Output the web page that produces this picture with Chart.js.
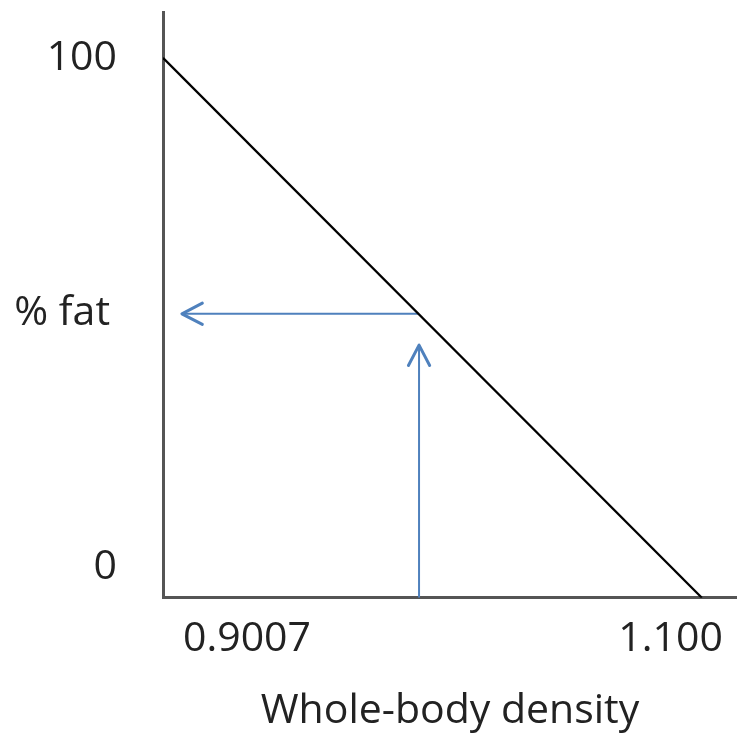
<!DOCTYPE html>
<html>
<head>
<meta charset="utf-8">
<script src="https://cdn.jsdelivr.net/npm/chart.js@4.4.1/dist/chart.umd.min.js"></script>
<style>
  html, body { margin: 0; padding: 0; background: #fff; }
  #wrap { width: 737px; height: 741px; }
</style>
</head>
<body>
<div id="wrap"><canvas id="fatChart" width="737" height="741"></canvas></div>
<script>
// Siri line: density of pure fat -> 100 %, fat-free mass -> 0 %
const lineDensity = [0.9007, 1.100];
const lineFat = [100, 0];

// reading a sample: up from the density axis, then across to % fat
const sampleDensity = 0.9954;
const sampleFat = 52.6;
const upArrowDensity = [sampleDensity, sampleDensity];
const upArrowFat = [0, 46.8];
const acrossArrowDensity = [sampleDensity, 0.9077];
const acrossArrowFat = [sampleFat, sampleFat];

// tick labels
const xTickValues = [0.9007, 1.100];
const xTickLabels = ["0.9007", "1.100"];
const yTickValues = [100, sampleFat, 0];
const yTickLabels = ["100", "% fat", "0"];

const xTitle = "Whole-body density";

const FONT = "'Open Sans', sans-serif";
const BLUE = "#4f81bd";

function toPoints(xs, ys) {
    return xs.map((x, i) => ({ x: x, y: ys[i] }));
}

// open arrow heads on the last point of the arrow datasets
const arrowHeads = {
    id: "arrowHeads",
    afterDatasetsDraw(chart) {
        const ctx = chart.ctx;
        chart.data.datasets.forEach((ds, i) => {
            if (!ds.arrow) return;
            const pts = chart.getDatasetMeta(i).data;
            const a = pts[pts.length - 2], b = pts[pts.length - 1];
            const ang = Math.atan2(b.y - a.y, b.x - a.x);
            const len = 23, spread = 0.48;
            ctx.save();
            ctx.strokeStyle = ds.borderColor;
            ctx.lineWidth = 3;
            ctx.lineCap = "round";
            ctx.lineJoin = "round";
            ctx.beginPath();
            ctx.moveTo(b.x - len * Math.cos(ang - spread), b.y - len * Math.sin(ang - spread));
            ctx.lineTo(b.x, b.y);
            ctx.lineTo(b.x - len * Math.cos(ang + spread), b.y - len * Math.sin(ang + spread));
            ctx.stroke();
            ctx.restore();
        });
    }
};

// tick labels sit like loose text boxes next to the axes
const axisLabels = {
    id: "axisLabels",
    afterDraw(chart) {
        const ctx = chart.ctx;
        const xs = chart.scales.x, ys = chart.scales.y;
        const area = chart.chartArea;
        ctx.save();
        ctx.font = "41px " + FONT;
        ctx.fillStyle = "#222";
        ctx.textBaseline = "middle";

        const yNudge = [[0, 0], [-7, 0], [0, -30]];
        ctx.textAlign = "right";
        yTickValues.forEach((v, i) => {
            ctx.fillText(yTickLabels[i], area.left - 46 + yNudge[i][0], ys.getPixelForValue(v) + yNudge[i][1]);
        });

        const xAlign = ["left", "right"];
        const xNudge = [20, 21];
        xTickValues.forEach((v, i) => {
            ctx.textAlign = xAlign[i];
            ctx.fillText(xTickLabels[i], xs.getPixelForValue(v) + xNudge[i], area.bottom + 42);
        });
        ctx.restore();
    }
};

new Chart(document.getElementById("fatChart"), {
    type: "line",
    data: {
        datasets: [
            {
                data: toPoints(lineDensity, lineFat),
                borderColor: "#000",
                borderWidth: 2.2
            },
            {
                data: toPoints(upArrowDensity, upArrowFat),
                borderColor: BLUE,
                borderWidth: 2,
                arrow: true
            },
            {
                data: toPoints(acrossArrowDensity, acrossArrowFat),
                borderColor: BLUE,
                borderWidth: 2,
                arrow: true
            }
        ]
    },
    options: {
        responsive: false,
        animation: false,
        elements: { point: { radius: 0 }, line: { tension: 0 } },
        layout: { padding: { left: 155, top: 12, right: 0, bottom: 5 } },
        plugins: { legend: { display: false }, tooltip: { enabled: false } },
        scales: {
            x: {
                type: "linear",
                min: 0.9007,
                max: 1.113,
                grid: { display: false },
                ticks: { display: false },
                border: { display: true, color: "#555", width: 3 },
                title: {
                    display: true,
                    text: xTitle,
                    color: "#222",
                    font: { family: FONT, size: 41 },
                    padding: { top: 81, bottom: 0 }
                }
            },
            y: {
                min: 0,
                max: 108.5,
                grid: { display: false },
                ticks: { display: false },
                border: { display: true, color: "#555", width: 3 }
            }
        }
    },
    plugins: [arrowHeads, axisLabels]
});
</script>
</body>
</html>
